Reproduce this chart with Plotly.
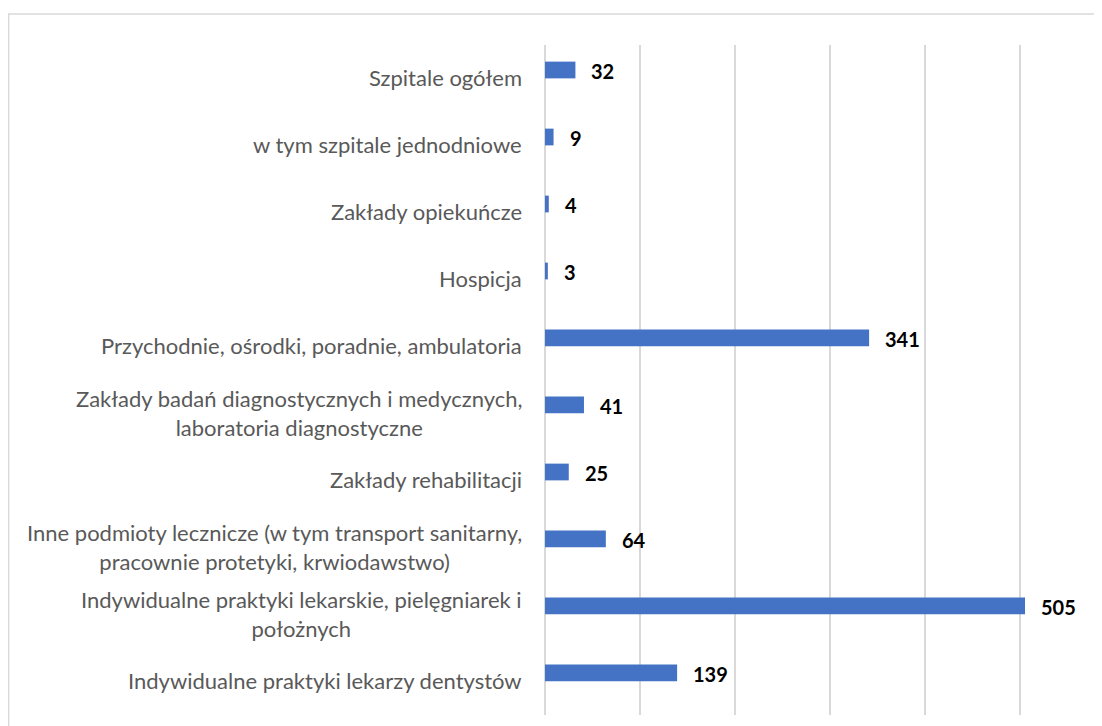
import plotly.graph_objects as go

# categories, top to bottom as in the chart
categories = [
    "Szpitale ogółem",
    "w tym szpitale jednodniowe",
    "Zakłady opiekuńcze",
    "Hospicja",
    "Przychodnie, ośrodki, poradnie, ambulatoria",
    "Zakłady badań diagnostycznych i medycznych,<br>laboratoria diagnostyczne",
    "Zakłady rehabilitacji",
    "Inne podmioty lecznicze (w tym transport sanitarny,<br>pracownie protetyki, krwiodawstwo)",
    "Indywidualne praktyki lekarskie, pielęgniarek i<br>położnych",
    "Indywidualne praktyki lekarzy dentystów",
]
values = [32, 9, 4, 3, 341, 41, 25, 64, 505, 139]

FONT = "Lato, 'Open Sans', sans-serif"
BAR = "#4472C4"
GRID = "#D9D9D9"
LABEL = "#595959"

fig = go.Figure()
fig.add_trace(go.Bar(
    x=values,
    y=categories,
    orientation="h",
    marker=dict(color=BAR, line=dict(width=0)),
    hoverinfo="x+y",
))

# category labels (centred multi-line, like the original)
for cat in categories:
    fig.add_annotation(
        x=0, xref="paper", y=cat, yref="y",
        text=cat, showarrow=False,
        xanchor="right", align="center",
        xshift=-21, yshift=-8,
        font=dict(family=FONT, size=22, color=LABEL),
    )

# value labels
for cat, v in zip(categories, values):
    fig.add_annotation(
        x=v, y=cat, text=f"<b>{v}</b>", showarrow=False,
        xanchor="left", xshift=14, yshift=-1,
        font=dict(family=FONT, size=20, color="black"),
    )

# chart frame (top and left edges visible)
fig.add_shape(
    type="rect", xref="paper", yref="paper",
    x0=-0.963, x1=1.2, y0=-0.2, y1=1.0463,
    line=dict(color=GRID, width=1.5), fillcolor="rgba(0,0,0,0)",
    layer="below",
)

# the page adds an 8px body margin, so the figure is 8px smaller each way
fig.update_layout(
    width=1094,
    height=718,
    margin=dict(l=537, r=0, t=37, b=11),
    paper_bgcolor="white",
    plot_bgcolor="white",
    bargap=0.75,
    showlegend=False,
    font=dict(family=FONT),
)
fig.update_xaxes(
    range=[0, 586],
    dtick=100,
    showgrid=True,
    gridcolor=GRID,
    gridwidth=1.5,
    zeroline=True,
    zerolinecolor=GRID,
    zerolinewidth=1.5,
    showticklabels=False,
    ticks="",
    showline=False,
)
fig.update_yaxes(
    categoryorder="array",
    categoryarray=categories,
    range=[9.627, -0.373],
    showticklabels=False,
    ticks="",
    showgrid=False,
    zeroline=False,
    showline=False,
)

fig.write_html("out.html")
